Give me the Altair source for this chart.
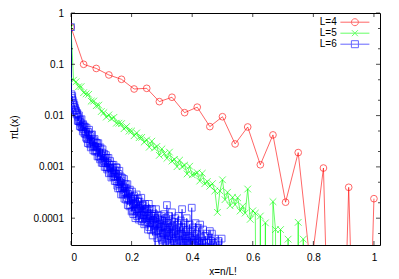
import altair as alt
import pandas as pd

FONT = "Liberation Sans"

series_names = ["L=4", "L=5", "L=6"]
series_colors = ["#ff0000", "#00ff00", "#0000ff"]
factorials = [24, 120, 720]

# pi_L(x) values, index n -> x = n / L!
red_vals = [0.53, 0.1, 0.083, 0.062, 0.051, 0.033, 0.034, 0.0187, 0.0228, 0.0114,
            0.0146, 0.0061, 0.0095, 0.0028, 0.006, 0.0011, 0.0042, 0.000205, 0.0019, 1e-5,
            0.00095, 0, 0.0004, 0, 0.00024]

green_vals = [0.53, 0.049, 0.0456, 0.0365, 0.0367, 0.0280, 0.0266, 0.0260, 0.0191, 0.0192,
              0.0156, 0.0160, 0.0120, 0.0114, 0.00936, 0.0103, 0.00865, 0.00925, 0.00712, 0.00710,
              0.00697, 0.00555, 0.00610, 0.00498, 0.00500, 0.00405, 0.00459, 0.00371, 0.00376, 0.00305,
              0.00335, 0.00242, 0.00317, 0.00233, 0.00250, 0.00168, 0.00224, 0.00181, 0.00147, 0.00194,
              0.00130, 0.00140, 0.00101, 0.00135, 0.00101, 0.00108, 0.00073, 0.00103, 0.00070, 0.000725,
              0.00077, 0.00053, 0.00075, 0.00047, 0.00052, 0.00042, 0.00047, 0.00034, 0.00013, 0.00034,
              0.00056, 0.00023, 0.00032, 0.000175, 0.000255, 0.000183, 0.00025, 0.000138, 0.000171, 0.000126,
              0.00037, 0.000095, 0.000139, 0.000125, 0, 0.00011, 0, 0.000081, 0, 0,
              0.00021, 0.00006, 0, 0.00006, 0, 0, 0.000039, 0, 0, 0,
              0.000083, 0, 0.000039, 0, 0, 0, 0, 0, 0, 0,
              0, 0, 0, 0, 0, 0, 0, 0, 0, 0,
              0, 0, 0, 0, 0, 0, 0, 0, 0, 0,
              0]

blue_vals = [0.53, 0.026, 0.022, 0.024, 0.020, 0.017, 0.018, 0.015, 0.016, 0.013,
             0.014, 0.012, 0.0125, 0.0105, 0.011, 0.0112, 0.0079, 0.0095, 0.0078, 0.0101,
             0.0077, 0.0062, 0.0083, 0.0073, 0.0060, 0.0085, 0.0059, 0.0066, 0.0049, 0.0068,
             0.0054, 0.0061, 0.0045, 0.0061, 0.0044, 0.0048, 0.0037, 0.0058, 0.0035, 0.0042,
             0.0029, 0.0048, 0.0035, 0.0053, 0.0028, 0.0040, 0.0030, 0.0024, 0.0042, 0.0031,
             0.0043, 0.0025, 0.0031, 0.0021, 0.0033, 0.0025, 0.0035, 0.0020, 0.0025, 0.0030,
             0.0020, 0.0021, 0.0029, 0.0016, 0.0024, 0.0029, 0.0016, 0.0019, 0.0023, 0.0014,
             0.0024, 0.0015, 0.0017, 0.0012, 0.0019, 0.0022, 0.0012, 0.0016, 0.0013, 0.0018,
             0.0010, 0.0015, 0.0012, 0.0017, 0.00098, 0.0015, 0.00089, 0.0012, 0.00096, 0.0015,
             0.00075, 0.0011, 0.00097, 0.0013, 0.00077, 0.00094, 0.00062, 0.0011, 0.00077, 0.00097,
             0.00064, 0.0011, 0.00066, 0.00076, 0.00053, 0.00086, 0.00064, 0.00099, 0.00053, 9.6e-4,
             4.3e-4, 6.6e-4, 3.8e-4, 7.3e-4, 4.6e-4, 8.4e-4, 3.8e-4, 5.0e-4, 6.5e-4, 2.9e-4,
             5.4e-4, 3.9e-4, 6.1e-4, 2.9e-4, 4.1e-4, 3.1e-4, 5.8e-4, 2.4e-4, 4.0e-4, 3.2e-4,
             4.6e-4, 2.3e-4, 3.8e-4, 2.5e-4, 4.6e-4, 1.8e-4, 3.0e-4, 2.3e-4, 3.3e-4, 1.7e-4,
             3.6e-4, 1.8e-4, 2.2e-4, 2.6e-4, 1.35e-4, 3.3e-4, 1.4e-4, 2.4e-4, 1.2e-4, 1.9e-4,
             2.7e-4, 1.4e-4, 2.4e-4, 1.0e-4, 1.9e-4, 1.5e-4, 2.9e-4, 1.1e-4, 2.1e-4, 1.5e-4,
             2.4e-4, 9.4e-5, 1.6e-4, 2.1e-4, 1.0e-4, 1.7e-4, 1.15e-4, 2.5e-4, 8.7e-5, 1.4e-4,
             1.75e-4, 9.6e-5, 1.8e-4, 1.15e-4, 7.6e-5, 1.5e-4, 1.9e-4, 8.2e-5, 1.3e-4, 9.9e-5,
             1.5e-4, 8.4e-5, 1.5e-4, 6.0e-5, 1.2e-4, 1.9e-4, 6.7e-5, 1.0e-4, 8.0e-5, 1.5e-4,
             5.8e-5, 1.1e-4, 8.5e-5, 1.5e-4, 4.6e-5, 9.3e-5, 1.1e-4, 6.0e-5, 1.2e-4, 7.1e-5,
             0, 1.0e-4, 1.5e-4, 5.5e-5, 7.7e-5, 4.1e-5, 1.0e-4, 5.8e-5, 1.15e-4, 6.3e-5,
             0, 7.8e-5, 9.4e-5, 4.3e-5, 6.8e-5, 1.1e-4, 3.8e-5, 9.0e-5, 5.0e-5, 0,
             7.0e-5, 1.2e-4, 4.0e-5, 6.5e-5, 3.5e-5, 1.0e-4, 0, 5.5e-5, 1.8e-4, 6.0e-5,
             3.8e-5, 8.0e-5, 0, 1.1e-4, 4.5e-5, 6.6e-5, 3.3e-5, 9.0e-5, 0, 5.0e-5,
             1.3e-4, 4.0e-5, 7.0e-5, 0, 3.6e-5, 8.5e-5, 5.5e-5, 0, 1.0e-4, 4.2e-5,
             6.0e-5, 3.3e-5, 0, 7.5e-5, 4.8e-5, 1.1e-4, 0, 3.8e-5, 6.6e-5, 0,
             5.0e-5, 9.0e-5, 3.5e-5, 0, 1.5e-4, 4.5e-5, 0, 6.6e-5, 3.3e-5, 0,
             8.0e-5, 4.0e-5, 0, 5.5e-5, 0, 1.0e-4, 3.6e-5, 0, 6.0e-5, 4.5e-5,
             0, 3.3e-5, 7.5e-5, 0, 4.2e-5, 0, 5.5e-5, 1.6e-4, 0, 3.8e-5,
             6.6e-5, 0, 0, 4.5e-5, 3.3e-5, 0, 8.0e-5, 0, 4.0e-5, 5.0e-5,
             0, 3.5e-5, 0, 6.5e-5, 0, 3.3e-5, 0, 7.5e-5, 0, 4.2e-5,
             0, 0, 3.6e-5, 0, 6.0e-5, 0, 3.3e-5, 0, 0, 4.5e-5,
             0, 3.4e-5, 0, 0, 5.0e-5, 0, 0, 3.3e-5, 0, 0,
             5.6e-5, 0, 0, 3.6e-5, 0, 5.0e-5, 0, 0, 0, 3.3e-5,
             0, 0, 4.0e-5, 0, 0, 0, 3.4e-5, 0, 0, 0,
             0, 3.6e-5, 0, 0, 0, 0, 0, 0, 4.0e-5, 0,
             0]

x_ticks = [0, 0.2, 0.4, 0.6, 0.8, 1.0]
y_major = [1e-4, 1e-3, 1e-2, 1e-1, 1]
y_minor = [5e-5, 2e-4, 5e-4, 2e-3, 5e-3, 2e-2, 5e-2, 2e-1, 5e-1]

W, H = 309, 232
FLOOR = 1e-12  # zero values drawn below the visible range
OP = 0.6

rows = []
for name, fact, vals in zip(series_names, factorials, [red_vals, green_vals, blue_vals]):
    for n, v in enumerate(vals):
        rows.append({"series": name, "marker": name, "n": n, "x": n / fact,
                     "y": v if v > 0 else FLOOR})
df = pd.DataFrame(rows)

xscale = alt.Scale(domain=[0, 1.02], nice=False, zero=False)
yscale = alt.Scale(type="log", domain=[3e-5, 1], nice=False)
cscale = alt.Scale(domain=series_names, range=series_colors)

# legend symbols: sample line with the series marker in its middle (unit = 2.5 px)
circle_leg = "M-5.8,0L5.8,0M-1.4,0A1.4,1.4,0,1,0,1.4,0A1.4,1.4,0,1,0,-1.4,0"
cross_leg = "M-5.8,0L5.8,0M-1.2,-1.2L1.2,1.2M-1.2,1.2L1.2,-1.2"
square_leg = "M-5.8,0L5.8,0M-1.4,-1.4L1.4,-1.4L1.4,1.4L-1.4,1.4Z"

legend = alt.Legend(
    title=None, orient="none", legendX=278.9, legendY=4.2, padding=0,
    labelAlign="right", labelOffset=alt.ExprRef("-23.2"), labelFont=FONT, labelFontSize=10,
    labelColor="black", symbolOpacity=OP,
    symbolSize=25, symbolStrokeWidth=1, symbolFillColor="transparent",
    rowPadding=0,
)

xaxis = alt.Axis(values=x_ticks, format="~g", ticks=False, tickSize=0, domain=False, grid=False,
                 labelFont=FONT, labelFontSize=10, labelColor="black", labelPadding=7,
                 title="x=n/L!", titleFont=FONT, titleFontSize=10, titleFontWeight="normal",
                 titleColor="black", titleX=151.5, titleY=26, titleBaseline="middle", titleAlign="center")
yaxis = alt.Axis(values=y_major, format="~g", ticks=False, tickSize=0, domain=False, grid=False,
                 labelFont=FONT, labelFontSize=10, labelColor="black", labelPadding=7.5,
                 title="πL(x)", titleFont=FONT, titleFontSize=10, titleFontWeight="normal",
                 titleColor="black", titleX=-57, titleY=114, titleAngle=270,
                 titleBaseline="middle", titleAlign="center")

X = alt.X("x:Q", scale=xscale, axis=xaxis)
Y = alt.Y("y:Q", scale=yscale, axis=yaxis)

base = alt.Chart(df)
lines = base.mark_line(strokeWidth=1, clip=True, opacity=OP).encode(
    x=X, y=Y,
    color=alt.Color("series:N", scale=cscale, legend=None),
    detail="series:N",
    order="n:Q",
)
points = base.mark_point(filled=False, size=45, strokeWidth=1, clip=True, opacity=OP).encode(
    x=X, y=Y,
    color=alt.Color("series:N", scale=cscale, legend=None),
    shape=alt.Shape("marker:N", scale=alt.Scale(domain=series_names,
                    range=["circle", "M-1,-1L1,1M-1,1L1,-1", "square"]), legend=None),
)
# legend carrier: only the zero-valued entries, which fall outside the plotted range
legend_layer = base.transform_filter(alt.datum.y <= FLOOR).mark_point(
    filled=False, strokeWidth=1, clip=True).encode(
    x=X, y=Y,
    color=alt.Color("series:N", scale=cscale, legend=legend),
    shape=alt.Shape("series:N", scale=alt.Scale(domain=series_names,
                    range=[circle_leg, cross_leg, square_leg]), legend=legend),
)

ymaj = pd.DataFrame({"y": y_major})
ymin = pd.DataFrame({"y": y_minor})
xmaj = pd.DataFrame({"x": x_ticks})

def ytick(d, xpos, length):
    return alt.Chart(d).mark_tick(color="black", thickness=1, size=length, orient="horizontal").encode(
        y=Y, x=alt.value(xpos))

def xtick(d, ypos, length):
    return alt.Chart(d).mark_tick(color="black", thickness=1, size=length, orient="vertical").encode(
        x=X, y=alt.value(ypos))

ticks = [
    ytick(ymaj, 2, 4), ytick(ymaj, W - 2, 4),
    ytick(ymin, 1, 2), ytick(ymin, W - 1, 2),
    xtick(xmaj, 2, 4), xtick(xmaj, H - 2, 4),
]

chart = alt.layer(lines, points, legend_layer, *ticks).resolve_scale(
    shape="independent", color="independent"
).properties(
    width=W, height=H,
    autosize=alt.AutoSizeParams(type="none"),
    padding={"left": 63, "top": 5, "right": 11, "bottom": 34},
    background="white",
).configure_view(stroke="black", strokeWidth=1)

chart.save("out.html", embed_options={"renderer": "svg", "actions": False})
